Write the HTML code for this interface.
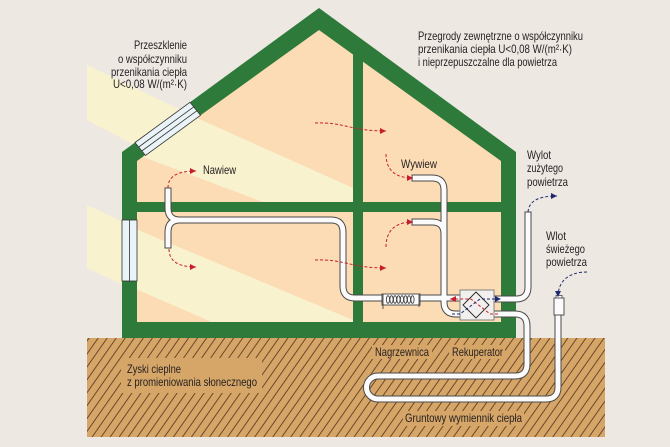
<!DOCTYPE html>
<html><head><meta charset="utf-8"><style>
html,body{margin:0;padding:0;background:#eee8e3;}
svg{display:block;}
text{font-family:"Liberation Sans Narrow","Liberation Sans",sans-serif;font-size:12px;fill:#231f20;}
</style></head><body>
<svg width="670" height="447" viewBox="0 0 670 447" xmlns="http://www.w3.org/2000/svg">
<defs>
<marker id="ar" viewBox="0 0 6 6" refX="6" refY="3" markerWidth="6" markerHeight="6" markerUnits="userSpaceOnUse" orient="auto"><path d="M0,0 L6,3 L0,6 z" fill="#c8202a"/></marker>
<marker id="ab" viewBox="0 0 6 6" refX="6" refY="3" markerWidth="6" markerHeight="6" markerUnits="userSpaceOnUse" orient="auto"><path d="M0,0 L6,3 L0,6 z" fill="#1f2a6e"/></marker>
<pattern id="hatch" width="7.4" height="10" patternUnits="userSpaceOnUse" patternTransform="rotate(35)">
<line x1="0.5" y1="0" x2="0.5" y2="10" stroke="#5e3f22" stroke-width="0.9"/>
</pattern>
<clipPath id="cA"><polygon points="137,161 319,30 353,54.5 353,202 137,202"/></clipPath>
<clipPath id="cG"><rect x="137" y="212" width="216" height="110"/></clipPath>
</defs>
<rect width="670" height="447" fill="#eee8e3"/>
<!-- outside sun beams -->
<polygon points="87,65 210,124 210,185 87,120" fill="#f8f2cf"/>
<polygon points="87,205 130,225 130,288 87,268" fill="#f8f2cf"/>
<!-- house -->
<polygon points="122,152 319,8 516,152 516,338 122,338" fill="#2d7a3a"/>
<!-- rooms -->
<polygon points="137,161 319,30 353,54.5 353,202 137,202" fill="#fcdcb5"/>
<polygon points="363,61.7 501,161 501,202 363,202" fill="#fcdcb5"/>
<rect x="137" y="212" width="216" height="110" fill="#fcdcb5"/>
<rect x="363" y="212" width="138" height="110" fill="#fcdcb5"/>
<!-- inside beams -->
<polygon clip-path="url(#cA)" points="130,87.9 360,191.2 360,238.5 130,152" fill="#f8f2cf"/>
<polygon clip-path="url(#cG)" points="130,226.6 360,322.9 360,386.6 130,286.5" fill="#f8f2cf"/>
<!-- roof window -->
<polygon points="135,142.5 190,102.3 200.5,115.3 145.5,155.5" fill="#eaf3f8" stroke="#333" stroke-width="0.8"/>
<line x1="138.7" y1="147" x2="193.7" y2="106.9" stroke="#333" stroke-width="0.8"/>
<line x1="141.8" y1="151" x2="196.8" y2="110.8" stroke="#333" stroke-width="0.8"/>
<!-- wall window -->
<rect x="122" y="220" width="15" height="61" fill="#eaf3f8" stroke="#333" stroke-width="0.8"/>
<line x1="129.5" y1="220" x2="129.5" y2="281" stroke="#333" stroke-width="0.8"/>
<!-- ground -->
<rect x="87" y="338" width="518" height="99" fill="#d6a568"/>
<rect x="87" y="338" width="518" height="99" fill="url(#hatch)"/>
<rect x="121" y="358" width="141" height="35" fill="#d6a568"/>
<rect x="372" y="345" width="60" height="14" fill="#d6a568"/>
<rect x="449" y="345" width="56" height="14" fill="#d6a568"/>
<rect x="403" y="411" width="121" height="15" fill="#d6a568"/>
<!-- pipes outline -->
<g fill="none" stroke="#4a4a4a" stroke-width="7" stroke-linecap="square" stroke-linejoin="round">
<path d="M168,191 V208 Q168,220 180,220"/>
<path d="M180,220 Q168,220 168,232 V245"/>
<path d="M180,220 H331 Q343,220 343,232 V286 Q343,298 355,298 H462"/>
<path d="M415,178 H432 Q444,178 444,190 V302 Q444,314 456,314 H462"/>
<path d="M415,222 H432 Q444,222 444,234"/>
<path d="M492,299 H516 Q528,299 528,287 V215"/>
<path d="M492,314 H515 Q527,314 527,326 V364 Q527,376 515,376 H378 A11.5,11.5 0 0 0 378,399 H546 Q558,399 558,387 V315"/>
</g>
<g fill="none" stroke="#fbfbfb" stroke-width="5" stroke-linecap="square" stroke-linejoin="round">
<path d="M168,191 V208 Q168,220 180,220"/>
<path d="M180,220 Q168,220 168,232 V245"/>
<path d="M180,220 H331 Q343,220 343,232 V286 Q343,298 355,298 H462"/>
<path d="M415,178 H432 Q444,178 444,190 V302 Q444,314 456,314 H462"/>
<path d="M415,222 H432 Q444,222 444,234"/>
<path d="M492,299 H516 Q528,299 528,287 V215"/>
<path d="M492,314 H515 Q527,314 527,326 V364 Q527,376 515,376 H378 A11.5,11.5 0 0 0 378,399 H546 Q558,399 558,387 V315"/>
</g>
<!-- filter on intake -->
<rect x="556" y="295.5" width="6" height="3" fill="#fff" stroke="#444" stroke-width="0.8"/>
<rect x="554" y="298" width="10" height="17" fill="#fbfbfb" stroke="#444" stroke-width="0.9"/>
<!-- heater -->
<rect x="382" y="294" width="38" height="11" fill="#fbfbfb" stroke="#444" stroke-width="0.9"/>
<g fill="none" stroke="#333" stroke-width="0.8">
<ellipse cx="388" cy="299.5" rx="1.6" ry="3.8"/>
<ellipse cx="391.5" cy="299.5" rx="1.6" ry="3.8"/>
<ellipse cx="395" cy="299.5" rx="1.6" ry="3.8"/>
<ellipse cx="398.5" cy="299.5" rx="1.6" ry="3.8"/>
<ellipse cx="402" cy="299.5" rx="1.6" ry="3.8"/>
<ellipse cx="405.5" cy="299.5" rx="1.6" ry="3.8"/>
<ellipse cx="409" cy="299.5" rx="1.6" ry="3.8"/>
<ellipse cx="412.5" cy="299.5" rx="1.6" ry="3.8"/>
<line x1="383" y1="294" x2="383" y2="309"/>
<line x1="419" y1="294" x2="419" y2="307"/>
</g>
<!-- recuperator -->
<rect x="460" y="290" width="34" height="30" fill="#f2f0ef" stroke="#777" stroke-width="0.9"/>
<polygon points="476,292 489,305 476,318 463,305" fill="none" stroke="#222" stroke-width="0.9"/>
<path d="M498,314 L490,314 L471,299 L450,299" fill="none" stroke="#c8202a" stroke-width="1" stroke-dasharray="3 2" marker-end="url(#ar)"/>
<path d="M452,314 L460,314 L480,299 L501,299" fill="none" stroke="#1f2a6e" stroke-width="1" stroke-dasharray="3 2" marker-end="url(#ab)"/>
<!-- airflow arrows -->
<g fill="none" stroke="#c8202a" stroke-width="1" stroke-dasharray="3 2" marker-end="url(#ar)">
<path d="M168,188 C168,176 178,171 196,171"/>
<path d="M169,249 C169,261 178,267 196,267"/>
<path d="M315,123 C345,122 350,131 386,131"/>
<path d="M315,260 C345,259 350,268 386,268"/>
<path d="M386,154 C386,170 395,178 413,178"/>
<path d="M386,247 C386,231 395,222 413,222"/>
</g>
<g fill="none" stroke="#1f2a6e" stroke-width="1" stroke-dasharray="3 2" marker-end="url(#ab)">
<path d="M528,212 C529,201 538,196 557,196"/>
<path d="M587,272 C570,272 558,280 558,297"/>
</g>
<!-- texts -->
<text x="187" y="49" text-anchor="end" textLength="53" lengthAdjust="spacingAndGlyphs">Przeszklenie</text>
<text x="187" y="63" text-anchor="end" textLength="69" lengthAdjust="spacingAndGlyphs">o współczynniku</text>
<text x="187" y="76" text-anchor="end" textLength="76" lengthAdjust="spacingAndGlyphs">przenikania ciepła</text>
<text x="187" y="88" text-anchor="end" textLength="74" lengthAdjust="spacingAndGlyphs">U&lt;0,08 W/(m²·K)</text>
<text x="418" y="40" textLength="165" lengthAdjust="spacingAndGlyphs">Przegrody zewnętrzne o współczynniku</text>
<text x="418" y="53" textLength="154" lengthAdjust="spacingAndGlyphs">przenikania ciepła U&lt;0,08 W/(m²·K)</text>
<text x="418" y="66" textLength="139" lengthAdjust="spacingAndGlyphs">i nieprzepuszczalne dla powietrza</text>
<text x="203" y="174" textLength="33" lengthAdjust="spacingAndGlyphs">Nawiew</text>
<text x="401" y="168" textLength="36" lengthAdjust="spacingAndGlyphs">Wywiew</text>
<text x="527" y="159" textLength="24" lengthAdjust="spacingAndGlyphs">Wylot</text>
<text x="527" y="172" textLength="36" lengthAdjust="spacingAndGlyphs">zużytego</text>
<text x="527" y="186" textLength="41" lengthAdjust="spacingAndGlyphs">powietrza</text>
<text x="546" y="240" textLength="20" lengthAdjust="spacingAndGlyphs">Wlot</text>
<text x="546" y="253" textLength="39" lengthAdjust="spacingAndGlyphs">świeżego</text>
<text x="546" y="266" textLength="41" lengthAdjust="spacingAndGlyphs">powietrza</text>
<text x="127" y="373" textLength="54" lengthAdjust="spacingAndGlyphs">Zyski cieplne</text>
<text x="127" y="386" textLength="130" lengthAdjust="spacingAndGlyphs">z promieniowania słonecznego</text>
<text x="375" y="356" textLength="54" lengthAdjust="spacingAndGlyphs">Nagrzewnica</text>
<text x="452" y="356" textLength="51" lengthAdjust="spacingAndGlyphs">Rekuperator</text>
<text x="405" y="422" textLength="117" lengthAdjust="spacingAndGlyphs">Gruntowy wymiennik ciepła</text>
</svg>
</body></html>
